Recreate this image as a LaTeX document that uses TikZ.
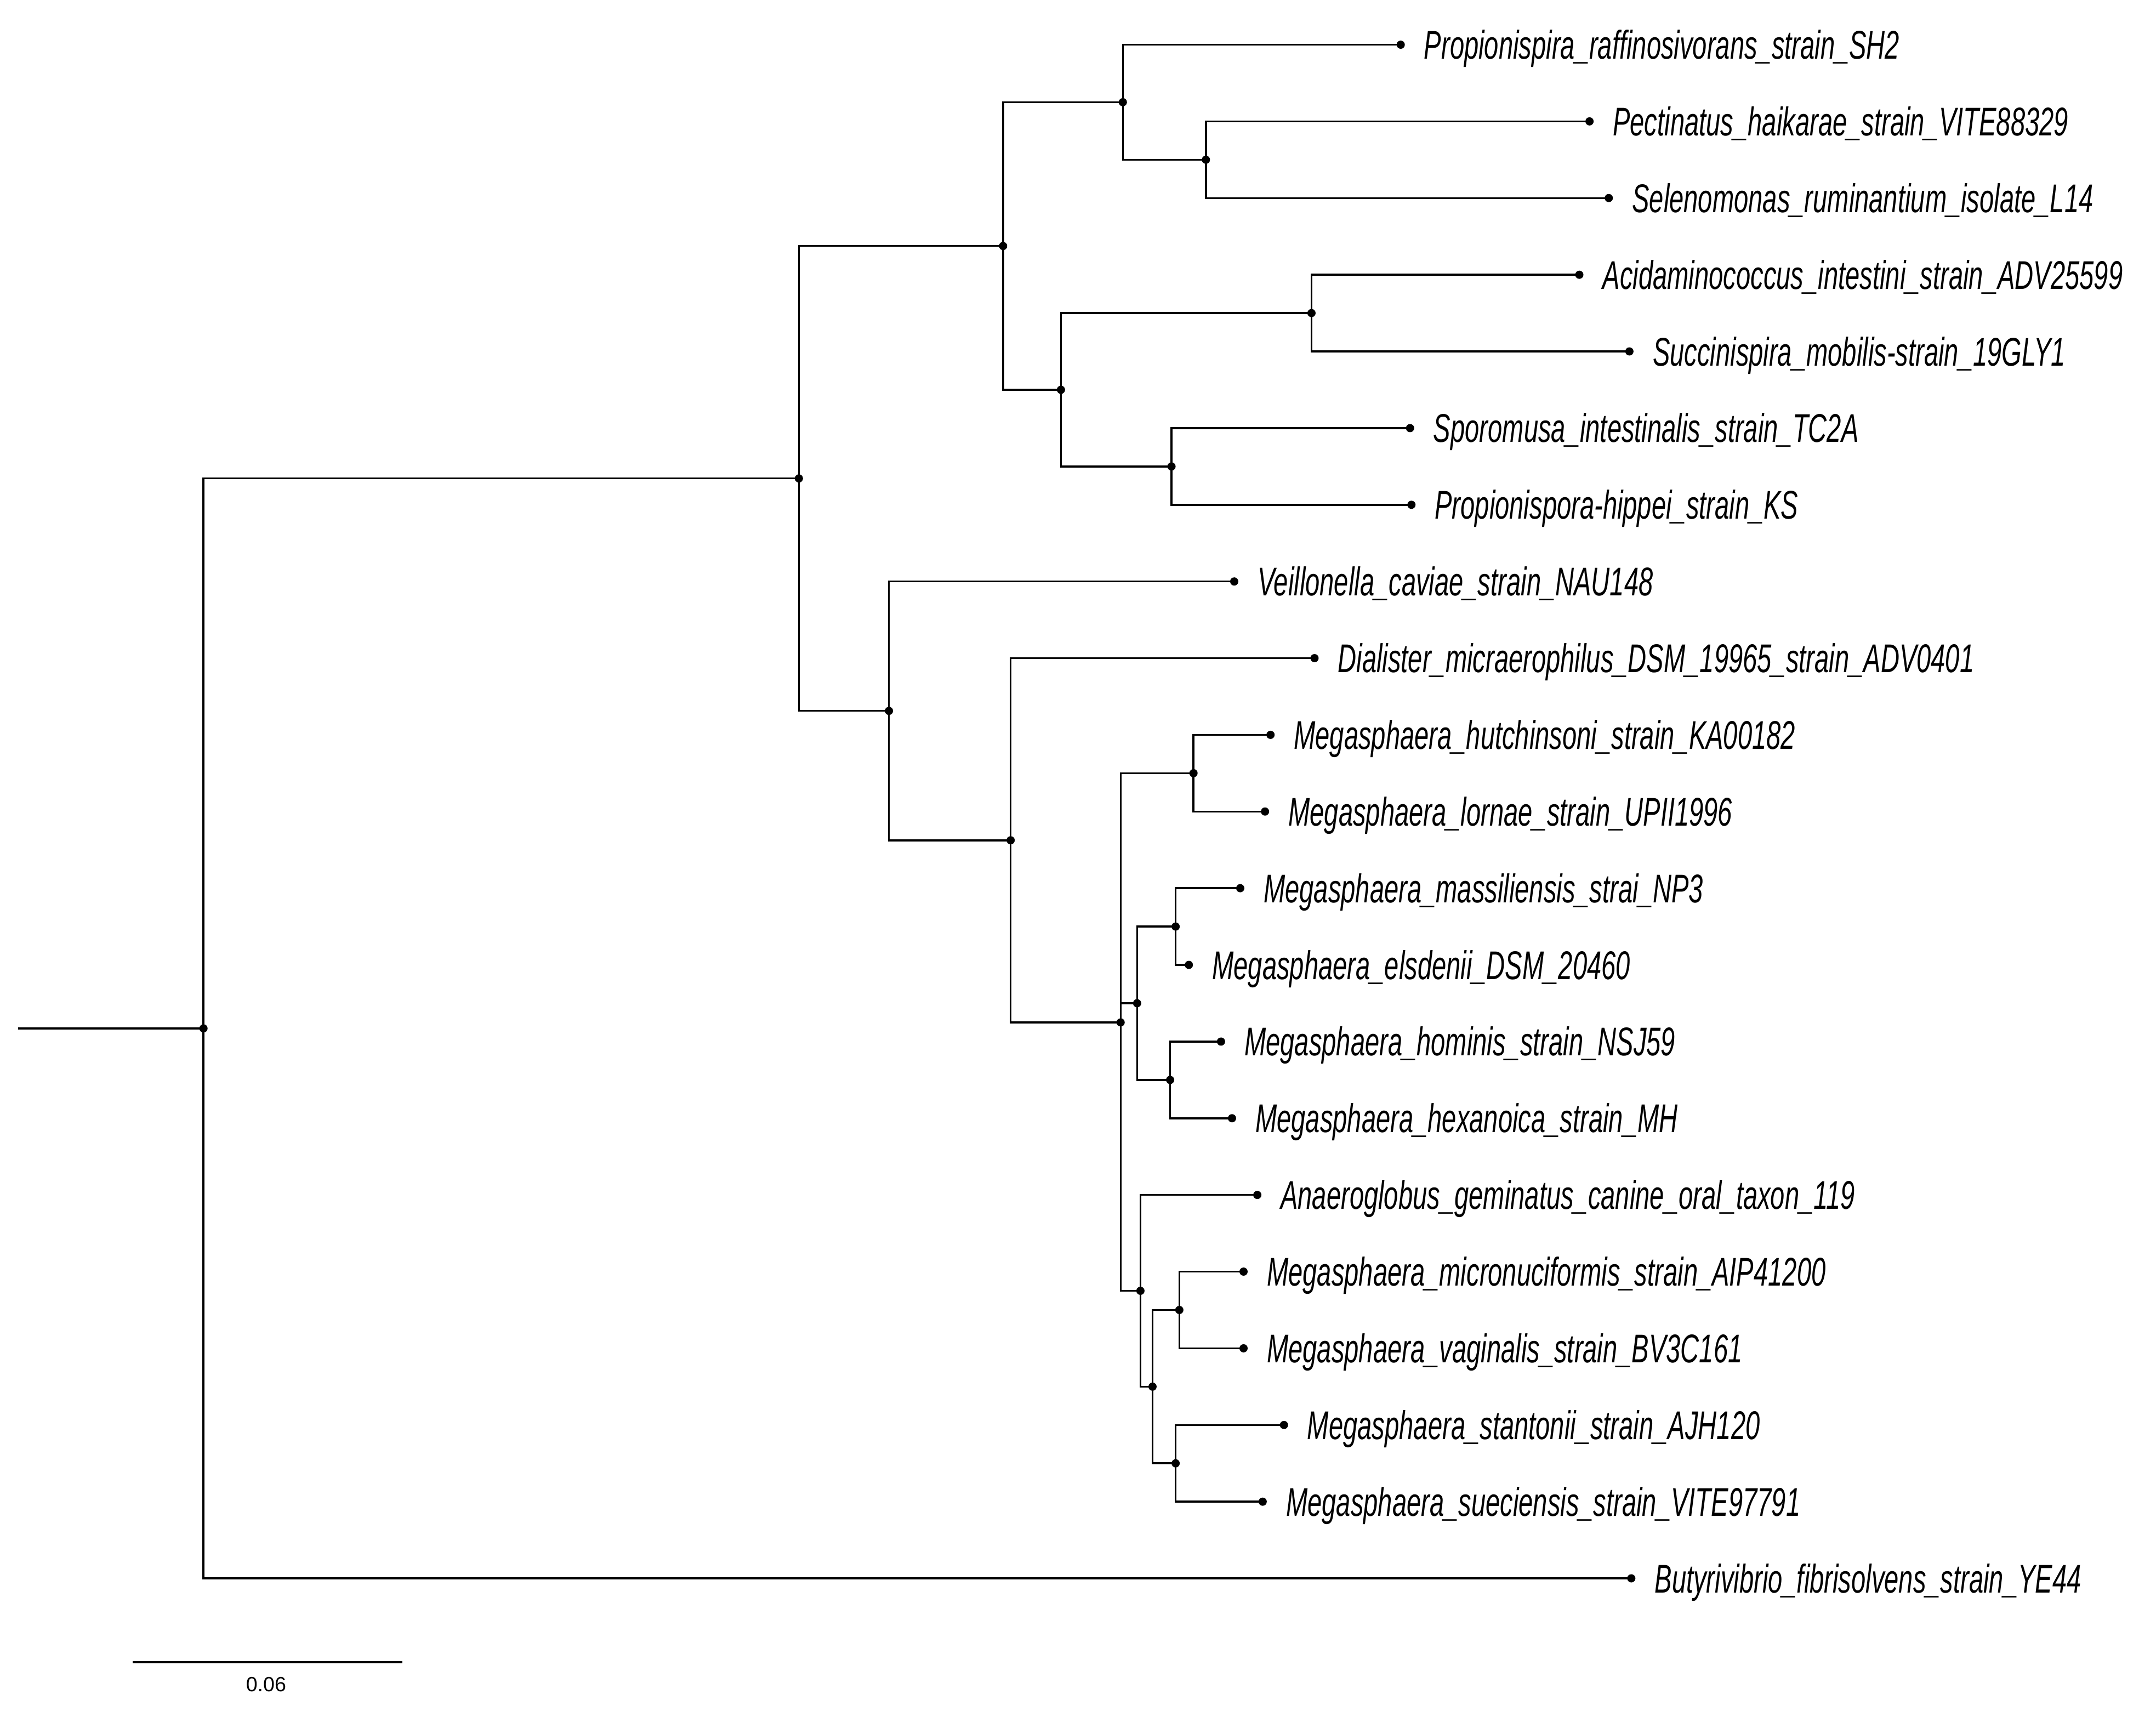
\documentclass[tikz,border=0pt]{standalone}
\usepackage{fontspec}
\setmainfont{Liberation Sans}
\newfontfamily\labfont{Liberation Sans}[FakeStretch=0.645]
\begin{document}
\begin{tikzpicture}[x=0.02508cm, y=-0.02508cm,
  br/.style={line width=1pt, line cap=rect},
  tipdot/.style={circle, fill=black, inner sep=0pt, minimum size=0.15cm},
  taxlab/.style={anchor=base west, inner sep=0pt, font=\labfont\fontsize{20.8}{24}\selectfont\itshape},
  scalelab/.style={inner sep=0pt, font=\fontsize{10.7}{12}\selectfont}
]
\fill[white] (0,0) rectangle (1568,1244);
\useasboundingbox (0,0) rectangle (1568,1244);

% tips
\node[tipdot] (t1)  at (1018.7,32.5)   {};
\node[tipdot] (t2)  at (1156,88.27)    {};
\node[tipdot] (t3)  at (1170,144.03)   {};
\node[tipdot] (t4)  at (1148.6,199.80) {};
\node[tipdot] (t5)  at (1185,255.56)   {};
\node[tipdot] (t6)  at (1025.5,311.33) {};
\node[tipdot] (t7)  at (1026.5,367.09) {};
\node[tipdot] (t8)  at (897.6,422.86)  {};
\node[tipdot] (t9)  at (956,478.62)    {};
\node[tipdot] (t10) at (924,534.39)    {};
\node[tipdot] (t11) at (920,590.15)    {};
\node[tipdot] (t12) at (902,645.92)    {};
\node[tipdot] (t13) at (864.6,701.68)  {};
\node[tipdot] (t14) at (888,757.45)    {};
\node[tipdot] (t15) at (896,813.21)    {};
\node[tipdot] (t16) at (914.4,868.98)  {};
\node[tipdot] (t17) at (904.4,924.74)  {};
\node[tipdot] (t18) at (904.4,980.51)  {};
\node[tipdot] (t19) at (933.8,1036.27) {};
\node[tipdot] (t20) at (918.3,1092.04) {};
\node[tipdot] (t21) at (1186.4,1147.80) {};

% internal nodes
\node[tipdot] (D) at (877,116.15) {};
\node[tipdot] (C) at (816.6,74.33) {};
\node[tipdot] (F) at (953.8,227.68) {};
\node[tipdot] (G) at (852,339.21) {};
\node[tipdot] (E) at (771.6,283.45) {};
\node[tipdot] (B) at (729.5,178.89) {};
\node[tipdot] (K) at (868,562.27) {};
\node[tipdot] (N) at (855,673.8) {};
\node[tipdot] (O) at (851,785.33) {};
\node[tipdot] (M) at (827,729.57) {};
\node[tipdot] (R) at (857.7,952.63) {};
\node[tipdot] (S) at (855,1064.16) {};
\node[tipdot] (Q) at (838.2,1008.39) {};
\node[tipdot] (P) at (829.4,938.69) {};
\node[tipdot] (J) at (815,743.51) {};
\node[tipdot] (I) at (735,611.07) {};
\node[tipdot] (H) at (646.5,516.96) {};
\node[tipdot] (A) at (581,347.93) {};
\node[tipdot] (root) at (148,747.87) {};
\coordinate (stub) at (14,747.87);

% branches
\draw[br] (stub) -- (root);
\draw[br] (root) |- (A);
\draw[br] (root) |- (t21);
\draw[br] (A) |- (B);
\draw[br] (A) |- (H);
\draw[br] (B) |- (C);
\draw[br] (B) |- (E);
\draw[br] (C) |- (t1);
\draw[br] (C) |- (D);
\draw[br] (D) |- (t2);
\draw[br] (D) |- (t3);
\draw[br] (E) |- (F);
\draw[br] (E) |- (G);
\draw[br] (F) |- (t4);
\draw[br] (F) |- (t5);
\draw[br] (G) |- (t6);
\draw[br] (G) |- (t7);
\draw[br] (H) |- (t8);
\draw[br] (H) |- (I);
\draw[br] (I) |- (t9);
\draw[br] (I) |- (J);
\draw[br] (J) |- (K);
\draw[br] (J) |- (M);
\draw[br] (J) |- (P);
\draw[br] (K) |- (t10);
\draw[br] (K) |- (t11);
\draw[br] (M) |- (N);
\draw[br] (M) |- (O);
\draw[br] (N) |- (t12);
\draw[br] (N) |- (t13);
\draw[br] (O) |- (t14);
\draw[br] (O) |- (t15);
\draw[br] (P) |- (t16);
\draw[br] (P) |- (Q);
\draw[br] (Q) |- (R);
\draw[br] (Q) |- (S);
\draw[br] (R) |- (t17);
\draw[br] (R) |- (t18);
\draw[br] (S) |- (t19);
\draw[br] (S) |- (t20);

% labels
\node[taxlab] (l1)  at ([xshift=0.42cm,yshift=-0.26cm]t1.center)  {Propionispira\_raffinosivorans\_strain\_SH2};
\node[taxlab] (l2)  at ([xshift=0.42cm,yshift=-0.26cm]t2.center)  {Pectinatus\_haikarae\_strain\_VITE88329};
\node[taxlab] (l3)  at ([xshift=0.42cm,yshift=-0.26cm]t3.center)  {Selenomonas\_ruminantium\_isolate\_L14};
\node[taxlab] (l4)  at ([xshift=0.42cm,yshift=-0.26cm]t4.center)  {Acidaminococcus\_intestini\_strain\_ADV25599};
\node[taxlab] (l5)  at ([xshift=0.42cm,yshift=-0.26cm]t5.center)  {Succinispira\_mobilis-strain\_19GLY1};
\node[taxlab] (l6)  at ([xshift=0.42cm,yshift=-0.26cm]t6.center)  {Sporomusa\_intestinalis\_strain\_TC2A};
\node[taxlab] (l7)  at ([xshift=0.42cm,yshift=-0.26cm]t7.center)  {Propionispora-hippei\_strain\_KS};
\node[taxlab] (l8)  at ([xshift=0.42cm,yshift=-0.26cm]t8.center)  {Veillonella\_caviae\_strain\_NAU148};
\node[taxlab] (l9)  at ([xshift=0.42cm,yshift=-0.26cm]t9.center)  {Dialister\_micraerophilus\_DSM\_19965\_strain\_ADV0401};
\node[taxlab] (l10) at ([xshift=0.42cm,yshift=-0.26cm]t10.center) {Megasphaera\_hutchinsoni\_strain\_KA00182};
\node[taxlab] (l11) at ([xshift=0.42cm,yshift=-0.26cm]t11.center) {Megasphaera\_lornae\_strain\_UPII1996};
\node[taxlab] (l12) at ([xshift=0.42cm,yshift=-0.26cm]t12.center) {Megasphaera\_massiliensis\_strai\_NP3};
\node[taxlab] (l13) at ([xshift=0.42cm,yshift=-0.26cm]t13.center) {Megasphaera\_elsdenii\_DSM\_20460};
\node[taxlab] (l14) at ([xshift=0.42cm,yshift=-0.26cm]t14.center) {Megasphaera\_hominis\_strain\_NSJ59};
\node[taxlab] (l15) at ([xshift=0.42cm,yshift=-0.26cm]t15.center) {Megasphaera\_hexanoica\_strain\_MH};
\node[taxlab] (l16) at ([xshift=0.42cm,yshift=-0.26cm]t16.center) {Anaeroglobus\_geminatus\_canine\_oral\_taxon\_119};
\node[taxlab] (l17) at ([xshift=0.42cm,yshift=-0.26cm]t17.center) {Megasphaera\_micronuciformis\_strain\_AIP41200};
\node[taxlab] (l18) at ([xshift=0.42cm,yshift=-0.26cm]t18.center) {Megasphaera\_vaginalis\_strain\_BV3C161};
\node[taxlab] (l19) at ([xshift=0.42cm,yshift=-0.26cm]t19.center) {Megasphaera\_stantonii\_strain\_AJH120};
\node[taxlab] (l20) at ([xshift=0.42cm,yshift=-0.26cm]t20.center) {Megasphaera\_sueciensis\_strain\_VITE97791};
\node[taxlab] (l21) at ([xshift=0.42cm,yshift=-0.26cm]t21.center) {Butyrivibrio\_fibrisolvens\_strain\_YE44};

% scale bar
\coordinate (sb1) at (97,1208.7);
\coordinate (sb2) at (292,1208.7);
\draw[br] (sb1) -- (sb2);
\node[scalelab] (sbl) at (193.5,1225) {0.06};
\end{tikzpicture}
\end{document}
